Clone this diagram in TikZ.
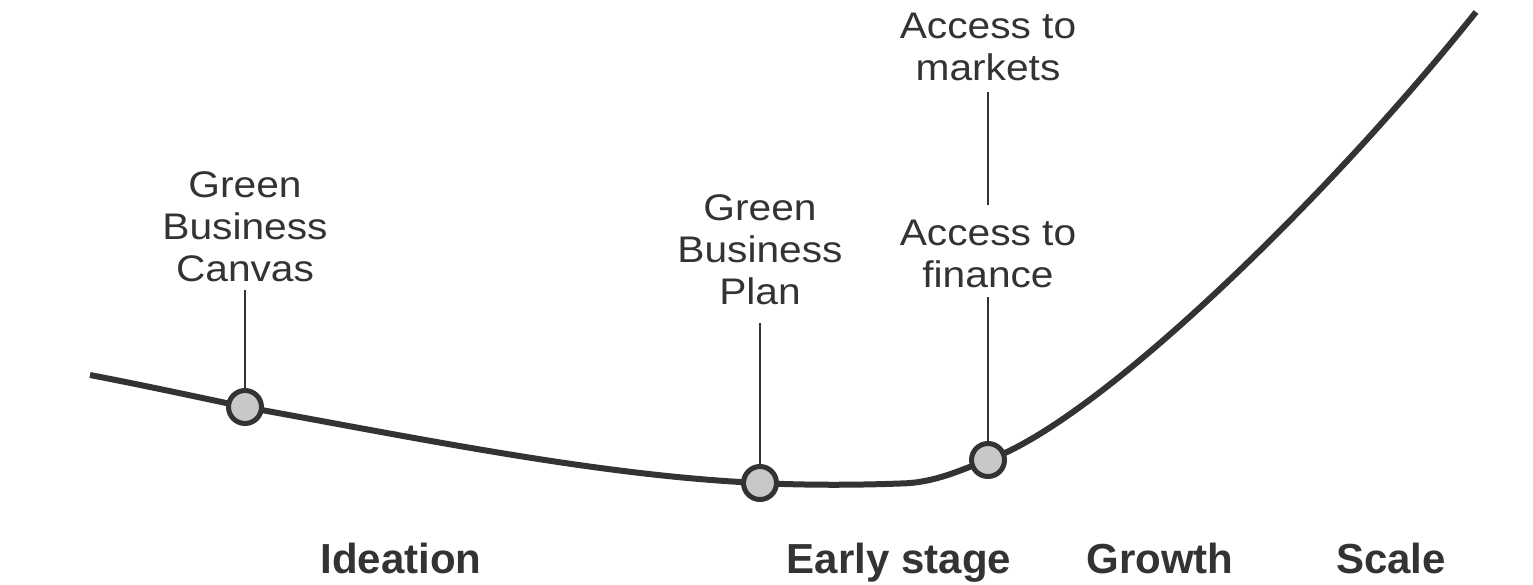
\documentclass[tikz,border=0pt]{standalone}
\usepackage{fontspec}
\setmainfont{Liberation Sans}
\newfontfamily\labfont[FakeStretch=1.1]{Liberation Sans}
\definecolor{ink}{HTML}{333333}
\definecolor{dotfill}{HTML}{C8C8C8}
\begin{document}
\begin{tikzpicture}[x=1pt,y=-1pt,
  lab/.style={font=\labfont\fontsize{37}{42}\selectfont, text=ink, align=center,
              inner xsep=0pt, inner ysep=8pt, anchor=south},
  stagelab/.style={font=\bfseries\fontsize{42}{48}\selectfont, text=ink, anchor=base, inner sep=0pt},
  dot/.style={circle, draw=ink, fill=dotfill, line width=5pt, minimum size=33pt, inner sep=0pt},
  curve/.style={draw=ink, line width=6pt},
  leader/.style={draw=ink, line width=2pt}]
\useasboundingbox (0,0) rectangle (1533,584);
% curve anchors
\coordinate (s) at (90,375);
\coordinate (f) at (900,483.5);
\coordinate (e) at (1476,12);
\coordinate (p1) at (245,407);
\coordinate (p2) at (760,483);
\coordinate (p3) at (988,460);
\draw[curve] (s) .. controls (142,385) and (193,396) .. (p1)
  .. controls (417,438) and (600,476) .. (p2)
  .. controls (810,485.5) and (860,485) .. (f)
  .. controls (935,483) and (960,470) .. (p3)
  .. controls (1100,420) and (1330,195) .. (e);
% dots
\node[dot] (c1) at (p1) {};
\node[dot] (c2) at (p2) {};
\node[dot] (c3) at (p3) {};
% labels
\node[lab] (gbc) at (245,290) {Green\\Business\\Canvas};
\node[lab, inner ysep=18pt] (gbp) at (760,323) {Green\\Business\\Plan};
\node[lab, inner ysep=11pt] (atm) at (988,92) {Access to\\markets};
\node[lab, inner ysep=9pt] (atf) at (988,297) {Access to\\finance};
\coordinate (mk) at (988,205);
% leaders
\draw[leader] (gbc.south) -- (c1.north);
\draw[leader] (gbp.south) -- (c2.north);
\draw[leader] (atf.south) -- (c3.north);
\draw[leader] (atm.south) -- (mk);
% stages
\node[stagelab] (st1) at (401,573) {Ideation};
\node[stagelab] (st2) at (899,573) {Early stage};
\node[stagelab] (st3) at (1160,573) {Growth};
\node[stagelab] (st4) at (1391,573) {Scale};
\end{tikzpicture}
\end{document}
